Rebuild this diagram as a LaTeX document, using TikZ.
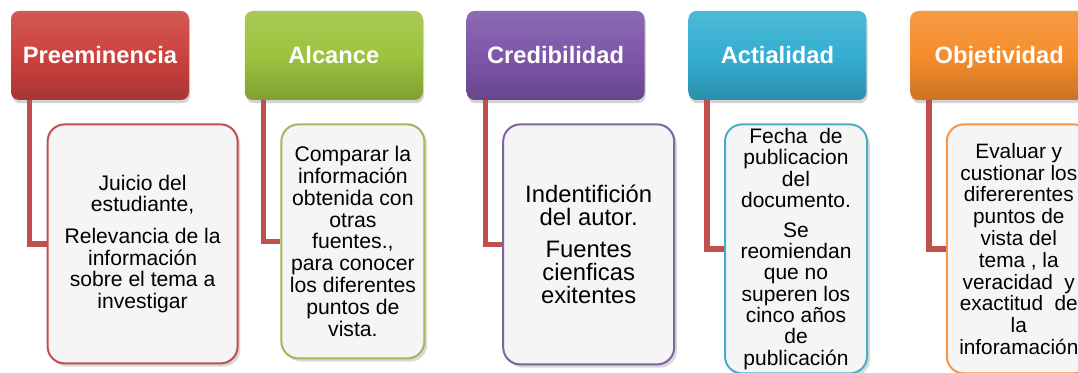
\documentclass[tikz,border=0pt]{standalone}
\usepackage{fontspec}
\setmainfont{Liberation Sans}
\usepackage{xcolor}
\usetikzlibrary{positioning, shadows}

\definecolor{preRed}{HTML}{C0504D}
\definecolor{alcGreen}{HTML}{9BBB59}
\definecolor{credPurple}{HTML}{8064A2}
\definecolor{actTeal}{HTML}{4BACC6}
\definecolor{objOrange}{HTML}{F79646}
\definecolor{preRedHd}{HTML}{CC423F}
\definecolor{alcGreenHd}{HTML}{9CC33E}
\definecolor{credPurpleHd}{HTML}{7D56A9}
\definecolor{actTealHd}{HTML}{34AFD1}
\definecolor{objOrangeHd}{HTML}{F68D2C}

\begin{document}
\begin{tikzpicture}[x=0.5pt, y=-0.5pt, node distance=21.5pt, thin]
            \tikzset{heading/.style={rounded corners=4pt, minimum width=89pt, minimum height=44.5pt, inner sep=0pt,
                top color=#1Hd!88!white, bottom color=#1Hd!82!black, middle color=#1Hd, text=white,
                text height=8.5pt, text depth=0pt, font=\bfseries\fontsize{11.85}{14}\selectfont,
                drop shadow={shadow xshift=0.6pt, shadow yshift=-1.6pt, opacity=0.35}}}
            \tikzset{detail/.style={draw=#1, line width=1pt, rounded corners=8.5pt, fill=black!4, text=black,
                align=center, anchor=north west, inner xsep=1pt, inner ysep=1pt,
                drop shadow={shadow xshift=1.4pt, shadow yshift=-1.6pt, opacity=0.3}}}
            \tikzset{branch/.style={draw=preRed, line width=2.7pt}}
            \path[use as bounding box] (0,0) rectangle (1078,373);
            \clip (0,0) rectangle (1078,373);
            % headings
            \node[heading=preRed] (pre) at (100,55.5) {Preeminencia};
            \node[heading=alcGreen, right=27.5pt of pre] (alc) {Alcance};
            \node[heading=credPurple, right=of alc] (cred) {Credibilidad};
            \node[heading=actTeal, right=of cred] (act) {Actialidad};
            \node[heading=objOrange, right=of act] (obj) {Objetividad};
            % details
            \node[detail=preRed, minimum width=95pt, minimum height=119.5pt, font=\fontsize{10.55}{10.85}\selectfont]
                (pre-txt) at ([shift={(18pt,-11.5pt)}]pre.south west)
                {Juicio del\\ estudiante,\\[5pt] Relevancia de la\\ información\\ sobre el tema a\\ investigar};
            \node[detail=alcGreen, minimum width=71.5pt, minimum height=117pt, font=\fontsize{10.6}{10.95}\selectfont]
                (alc-txt) at ([shift={(18pt,-11.5pt)}]alc.south west)
                {Comparar la\\ información\\ obtenida con\\ otras\\ fuentes.,\\ para conocer\\ los diferentes\\ puntos de\\ vista.};
            \node[detail=credPurple, minimum width=85.5pt, minimum height=120pt, font=\fontsize{11.9}{11.67}\selectfont]
                (cred-txt) at ([shift={(18pt,-11.5pt)}]cred.south west)
                {Indentifición\\ del autor.\\[4.2pt] Fuentes\\ cienficas\\ exitentes};
            \node[detail=actTeal, minimum width=71pt, minimum height=124.5pt, inner ysep=0pt, font=\fontsize{10.5}{10.65}\selectfont]
                (act-txt) at ([shift={(18pt,-11.5pt)}]act.south west)
                {Fecha~ de\\ publicacion\\ del\\ documento.\\[4.3pt] Se\\ reomiendan\\ que no\\ superen los\\ cinco años\\ de\\ publicación};
            \node[detail=objOrange, minimum width=72pt, minimum height=124.5pt, font=\fontsize{10.4}{10.9}\selectfont]
                (obj-txt) at ([shift={(18pt,-11.5pt)}]obj.south west)
                {Evaluar y\\ custionar los\\ difererentes\\ puntos de\\ vista del\\ tema , la\\ veracidad~ y\\ exactitud~ de\\ la\\ inforamación};
            % connectors
            \draw[branch] ([xshift=9.5pt]pre.south west) |- (pre-txt.west);
            \draw[branch] ([xshift=9.5pt]alc.south west) |- (alc-txt.west);
            \draw[branch] ([xshift=9.5pt]cred.south west) |- (cred-txt.west);
            \draw[branch] ([xshift=9.5pt]act.south west) |- (act-txt.west);
            \draw[branch] ([xshift=9.5pt]obj.south west) |- (obj-txt.west);
        \end{tikzpicture}
\end{document}
